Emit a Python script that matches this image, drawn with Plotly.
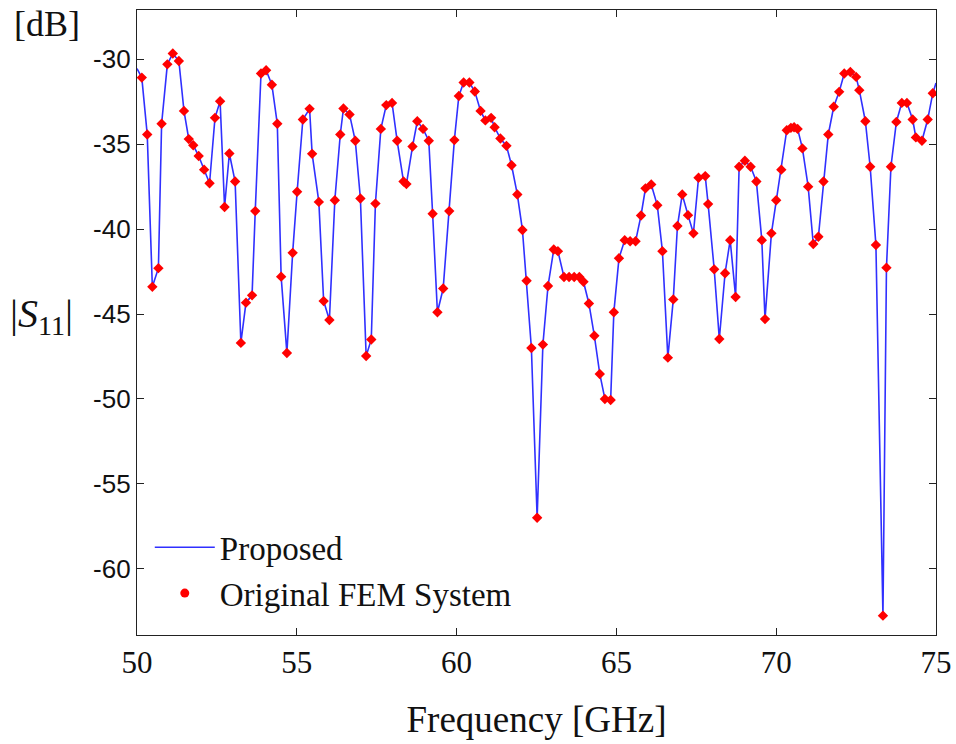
import plotly.graph_objects as go

# Original FEM System samples (frequency in GHz, |S11| in dB)
fem_freq = [50.15, 50.32, 50.48, 50.67, 50.77, 50.95, 51.12, 51.31, 51.47, 51.62,
            51.76, 51.93, 52.10, 52.27, 52.44, 52.60, 52.74, 52.89, 53.07, 53.25,
            53.41, 53.60, 53.70, 53.88, 54.04, 54.22, 54.39, 54.51, 54.69, 54.87,
            55.01, 55.19, 55.40, 55.48, 55.69, 55.84, 56.02, 56.19, 56.36, 56.46,
            56.65, 56.83, 56.99, 57.17, 57.33, 57.46, 57.63, 57.80, 57.98, 58.14,
            58.34, 58.43, 58.62, 58.77, 58.95, 59.13, 59.25, 59.40, 59.58, 59.77,
            59.93, 60.07, 60.22, 60.40, 60.57, 60.75, 60.90, 61.08, 61.19, 61.37,
            61.56, 61.72, 61.90, 62.06, 62.19, 62.34, 62.52, 62.70, 62.86, 63.04,
            63.17, 63.36, 63.52, 63.68, 63.84, 63.97, 64.14, 64.31, 64.48, 64.64,
            64.82, 64.92, 65.08, 65.26, 65.43, 65.60, 65.77, 65.91, 66.09, 66.28,
            66.44, 66.61, 66.78, 66.91, 67.06, 67.24, 67.41, 67.57, 67.78, 67.87,
            68.06, 68.22, 68.40, 68.56, 68.73, 68.84, 69.02, 69.20, 69.38, 69.55,
            69.65, 69.85, 70.00, 70.16, 70.33, 70.46, 70.56, 70.67, 70.82, 71.00,
            71.16, 71.32, 71.48, 71.63, 71.80, 71.97, 72.13, 72.32, 72.50, 72.60,
            72.79, 72.94, 73.12, 73.34, 73.45, 73.59, 73.76, 73.93, 74.09, 74.27,
            74.37, 74.56, 74.74, 74.90]
fem_db = [-31.08, -34.43, -43.40, -42.30, -33.80, -30.30, -29.66, -30.10, -33.04, -34.70,
          -35.06, -35.70, -36.50, -37.30, -33.45, -32.47, -38.70, -35.55, -37.20, -46.70,
          -44.33, -43.90, -38.94, -30.84, -30.65, -31.50, -33.80, -42.80, -47.30, -41.40,
          -37.80, -33.55, -32.92, -35.57, -38.40, -44.24, -45.35, -38.30, -34.43, -32.90,
          -33.25, -34.80, -38.20, -47.47, -46.50, -38.50, -34.10, -32.70, -32.57, -34.80,
          -37.20, -37.35, -35.14, -33.65, -34.10, -34.80, -39.10, -44.90, -43.50, -38.94,
          -34.76, -32.16, -31.37, -31.37, -31.90, -33.04, -33.60, -33.45, -34.00, -34.67,
          -35.10, -36.24, -37.96, -40.05, -43.04, -47.00, -57.00, -46.80, -43.35, -41.20,
          -41.30, -42.82, -42.82, -42.82, -42.82, -43.10, -44.38, -46.28, -48.53, -50.00,
          -50.06, -44.90, -41.72, -40.65, -40.72, -40.72, -39.20, -37.60, -37.37, -38.60,
          -41.30, -47.57, -44.14, -39.82, -37.96, -39.18, -40.25, -36.98, -36.88, -38.53,
          -42.37, -46.47, -42.60, -40.65, -44.00, -36.33, -35.98, -36.33, -37.20, -40.65,
          -45.30, -40.25, -38.30, -36.50, -34.18, -34.04, -34.00, -34.10, -35.25, -37.50,
          -40.88, -40.45, -37.20, -34.43, -32.80, -31.92, -30.84, -30.75, -31.04, -31.82,
          -33.65, -36.33, -40.94, -62.76, -42.27, -36.33, -33.69, -32.57, -32.57, -33.55,
          -34.60, -34.80, -33.55, -32.00]

# Proposed model curve end points (band edges)
line_start = (50.0, -30.55)
line_end = (75.0, -31.40)
line_freq = [line_start[0]] + fem_freq + [line_end[0]]
line_db = [line_start[1]] + fem_db + [line_end[1]]

x_ticks = [50, 55, 60, 65, 70, 75]
x_tick_text = ["50", "55", "60", "65", "70", "75"]
y_ticks = [-30, -35, -40, -45, -50, -55, -60]
y_tick_text = ["-30", "-35", "-40", "-45", "-50", "-55", "-60"]

serif = "Liberation Serif, Times New Roman, serif"
sans = "Liberation Sans, Arial, sans-serif"

fig = go.Figure()
fig.add_trace(go.Scatter(
    x=line_freq, y=line_db, mode="lines", name="Proposed",
    line=dict(color="#3030ff", width=1.6),
))
fig.add_trace(go.Scatter(
    x=fem_freq, y=fem_db, mode="markers", name="Original FEM System",
    legendgroup="fem", showlegend=False,
    marker=dict(color="#ff0000", size=8, symbol="diamond", line=dict(width=0)),
))
# legend entry for the FEM samples (round dot, as in the reference legend)
fig.add_trace(go.Scatter(
    x=[None], y=[None], mode="markers", name="Original FEM System",
    legendgroup="fem", showlegend=True,
    marker=dict(color="#ff0000", size=9, symbol="circle"),
))

axis_common = dict(
    showgrid=False, zeroline=False, showline=True, linecolor="#222222", linewidth=1.2,
    mirror="ticks", ticks="inside", ticklen=7, tickcolor="#222222", tickwidth=1.2,
    automargin=False,
)
fig.update_xaxes(range=[50, 75], tickvals=x_ticks, ticktext=x_tick_text,
                 tickfont=dict(family=serif, size=31, color="#111111"),
                 title=dict(text="Frequency [GHz]", font=dict(family=serif, size=37, color="#111111"),
                            standoff=26),
                 **axis_common)
fig.update_yaxes(range=[-63.9, -27.1], tickvals=y_ticks, ticktext=y_tick_text,
                 tickfont=dict(family=sans, size=26, color="#111111"),
                 **axis_common)

fig.add_annotation(text="[dB]", xref="paper", yref="paper", x=-0.157, y=0.977,
                   xanchor="left", yanchor="middle", showarrow=False,
                   font=dict(family=serif, size=36, color="#111111"))
fig.add_annotation(text="|<i>S</i><sub>11</sub>|", xref="paper", yref="paper",
                   x=-0.162, y=0.51, xanchor="left", yanchor="middle", showarrow=False,
                   font=dict(family=serif, size=40, color="#111111"))

fig.update_layout(
    width=956, height=744,
    margin=dict(l=137, r=20, t=10, b=109, autoexpand=False),
    paper_bgcolor="white", plot_bgcolor="white",
    showlegend=True,
    legend=dict(x=0.016, y=0.022, xanchor="left", yanchor="bottom",
                bgcolor="rgba(0,0,0,0)", borderwidth=0,
                font=dict(family=serif, size=33, color="#111111"),
                itemwidth=60, tracegroupgap=0),
)

fig.write_html("out.html", config={"displayModeBar": False},
               post_script="document.body.style.margin='0px';")
